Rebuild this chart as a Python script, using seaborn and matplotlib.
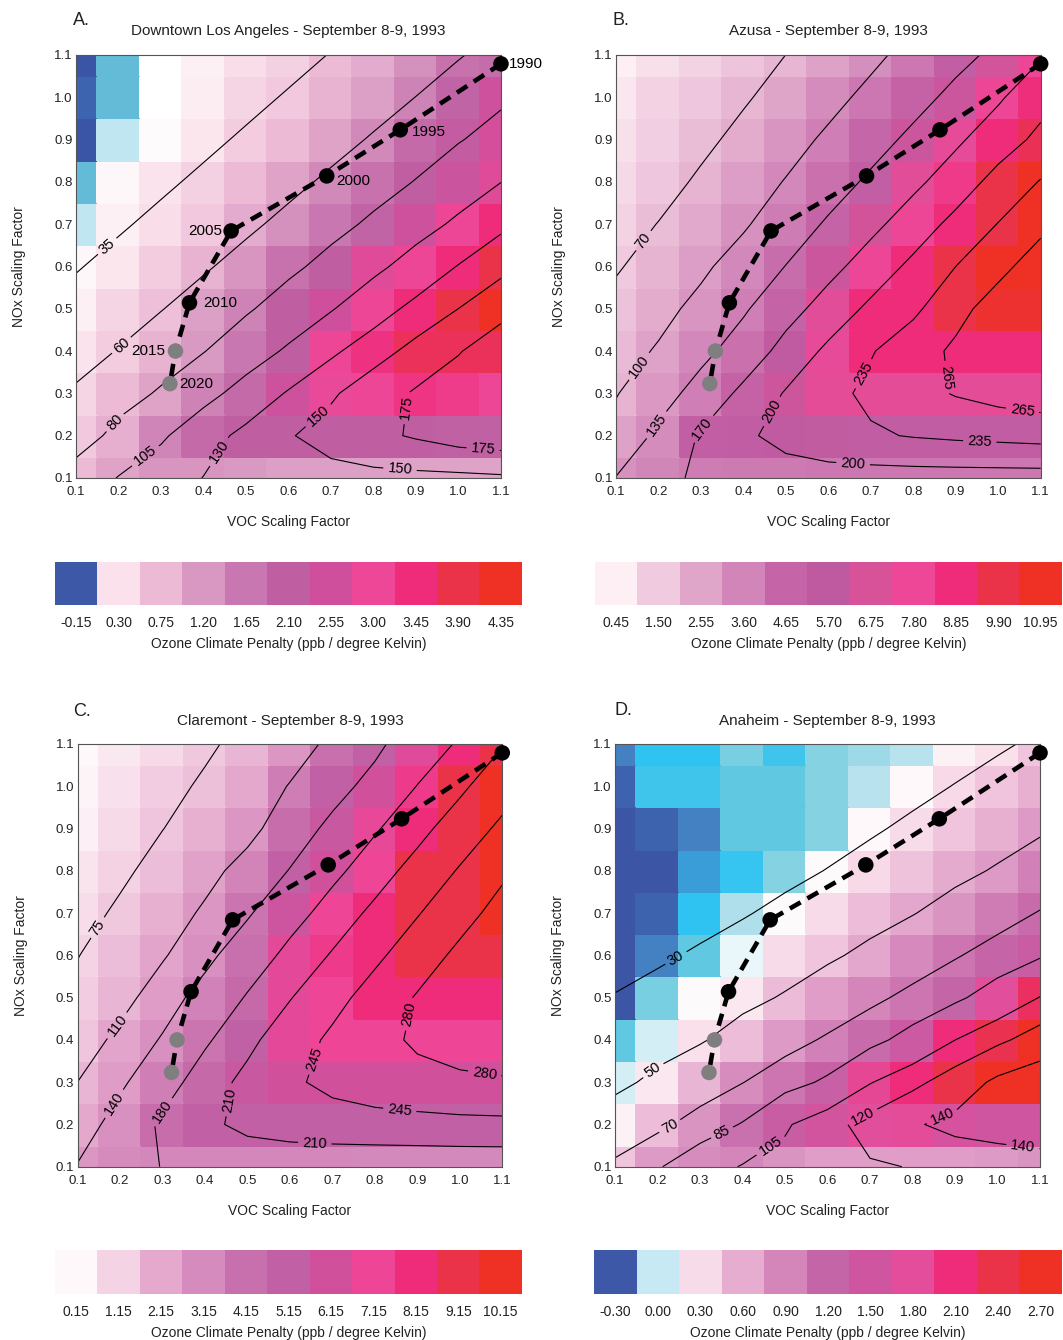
import numpy as np
import matplotlib
matplotlib.use("Agg")
import matplotlib.pyplot as plt
import seaborn as sns
from matplotlib.colors import LinearSegmentedColormap, ListedColormap, BoundaryNorm
from matplotlib.cm import ScalarMappable

# ---------------- data ----------------
voc_levels = [0.1, 0.2, 0.3, 0.4, 0.5, 0.6, 0.7, 0.8, 0.9, 1.0, 1.1]
nox_levels = [0.1, 0.2, 0.3, 0.4, 0.5, 0.6, 0.7, 0.8, 0.9, 1.0, 1.1]

traj_years = [1990, 1995, 2000, 2005, 2010, 2015, 2020]
traj_voc = [1.10, 0.863, 0.690, 0.465, 0.367, 0.334, 0.321]
traj_nox = [1.079, 0.923, 0.814, 0.684, 0.514, 0.400, 0.323]
traj_kind = ["past", "past", "past", "past", "past", "future", "future"]

titles = ["Downtown Los Angeles - September 8-9, 1993",
          "Azusa - September 8-9, 1993",
          "Claremont - September 8-9, 1993",
          "Anaheim - September 8-9, 1993"]
panel_letters = ["A.", "B.", "C.", "D."]

# climate penalty (ppb/K), rows from NOx = 1.1 (top) down to NOx = 0.1
penalty_A = [
    [-0.15, -0.03, 0.15, 0.22, 0.35, 0.50, 0.75, 0.95, 1.30, 1.75, 1.85],
    [-0.11, -0.03, 0.15, 0.24, 0.45, 0.60, 0.85, 1.10, 1.50, 2.00, 2.50],
    [-0.15, 0.05, 0.18, 0.28, 0.55, 0.75, 1.05, 1.40, 1.90, 2.20, 2.60],
    [-0.03, 0.20, 0.30, 0.50, 0.75, 1.05, 1.40, 1.75, 2.10, 2.40, 2.80],
    [0.05, 0.22, 0.35, 0.60, 0.95, 1.30, 1.65, 2.00, 2.50, 3.00, 3.45],
    [0.20, 0.28, 0.55, 0.85, 1.25, 1.75, 2.10, 2.80, 3.00, 3.45, 3.90],
    [0.22, 0.45, 0.70, 1.10, 1.50, 2.10, 2.55, 3.00, 3.45, 3.90, 4.35],
    [0.30, 0.55, 0.85, 1.20, 1.65, 2.10, 3.00, 3.35, 3.75, 3.75, 3.75],
    [0.45, 0.75, 1.05, 1.50, 1.90, 2.50, 2.90, 3.00, 3.30, 3.20, 3.00],
    [0.60, 0.90, 1.45, 1.90, 2.10, 2.10, 2.10, 2.10, 2.10, 2.05, 2.05],
    [0.75, 1.05, 1.25, 1.25, 1.20, 1.10, 1.10, 1.10, 1.05, 1.05, 1.05],
]
penalty_B = [
    [0.45, 0.90, 1.30, 1.70, 2.10, 2.70, 3.30, 4.10, 5.30, 6.50, 7.80],
    [0.70, 1.30, 1.60, 2.10, 2.60, 3.40, 4.10, 4.90, 6.20, 7.80, 8.80],
    [0.90, 1.40, 1.90, 2.40, 3.10, 3.80, 4.60, 6.20, 7.40, 8.85, 9.60],
    [1.10, 1.60, 2.20, 2.80, 3.50, 4.30, 5.30, 7.20, 8.30, 9.90, 10.95],
    [1.30, 1.90, 2.50, 3.20, 3.90, 4.80, 6.60, 7.80, 8.85, 9.90, 10.95],
    [1.55, 2.20, 2.80, 3.50, 4.40, 6.20, 7.80, 8.85, 9.90, 10.95, 10.95],
    [1.80, 2.40, 3.10, 3.80, 4.80, 7.20, 8.85, 8.85, 9.90, 10.60, 10.60],
    [2.00, 2.70, 3.50, 4.30, 5.60, 7.50, 8.85, 8.85, 8.85, 8.85, 8.85],
    [2.20, 3.00, 3.80, 4.90, 6.30, 7.30, 7.30, 7.30, 7.30, 7.30, 7.30],
    [2.70, 3.40, 5.30, 5.40, 5.60, 5.50, 5.40, 5.40, 5.40, 5.40, 5.40],
    [3.20, 3.60, 3.90, 4.00, 4.00, 4.10, 4.10, 4.10, 4.10, 4.10, 4.10],
]
penalty_C = [
    [0.15, 0.60, 1.00, 1.40, 1.90, 2.80, 4.15, 5.15, 6.60, 8.15, 9.15],
    [0.30, 0.80, 1.30, 1.60, 2.20, 3.70, 5.15, 6.15, 7.60, 9.15, 10.15],
    [0.40, 1.00, 1.50, 2.00, 2.80, 4.30, 5.60, 6.90, 8.15, 9.15, 10.15],
    [0.70, 1.20, 1.70, 2.40, 3.40, 5.15, 6.15, 7.15, 9.15, 9.15, 10.15],
    [0.90, 1.40, 2.00, 2.80, 4.00, 5.90, 7.15, 8.15, 9.15, 9.15, 10.15],
    [1.15, 1.70, 2.30, 3.00, 4.20, 6.80, 7.60, 8.15, 9.15, 9.15, 9.15],
    [1.30, 1.90, 2.60, 3.50, 4.60, 6.80, 7.15, 8.15, 8.15, 8.15, 8.15],
    [1.50, 2.30, 3.00, 4.00, 5.10, 6.80, 7.15, 7.15, 7.15, 7.15, 7.15],
    [1.90, 2.60, 3.60, 4.60, 5.60, 6.15, 6.15, 6.15, 6.15, 6.15, 6.15],
    [2.20, 3.00, 4.30, 5.15, 5.15, 5.15, 5.15, 5.15, 5.15, 5.15, 5.15],
    [2.80, 3.15, 3.30, 3.30, 3.30, 3.30, 3.30, 3.20, 3.20, 3.20, 3.20],
]
penalty_D = [
    [-0.24, -0.18, -0.18, -0.10, -0.15, -0.08, -0.05, -0.01, 0.20, 0.28, 0.45],
    [-0.27, -0.15, -0.15, -0.12, -0.12, -0.08, -0.01, 0.16, 0.32, 0.45, 0.58],
    [-0.30, -0.27, -0.24, -0.12, -0.12, -0.08, 0.16, 0.30, 0.45, 0.58, 0.75],
    [-0.29, -0.29, -0.21, -0.16, -0.08, 0.15, 0.32, 0.47, 0.62, 0.75, 0.95],
    [-0.29, -0.27, -0.18, -0.03, 0.15, 0.30, 0.50, 0.65, 0.80, 1.00, 1.15],
    [-0.29, -0.24, -0.12, 0.08, 0.30, 0.45, 0.65, 0.88, 1.05, 1.22, 1.35],
    [-0.29, -0.10, 0.15, 0.25, 0.52, 0.72, 0.90, 1.05, 1.20, 1.75, 2.25],
    [-0.12, 0.03, 0.28, 0.50, 0.75, 0.95, 1.15, 1.40, 2.10, 2.35, 2.70],
    [0.03, 0.24, 0.55, 0.85, 1.05, 1.30, 1.85, 2.10, 2.40, 2.70, 2.70],
    [0.20, 0.50, 0.80, 1.10, 1.35, 1.55, 1.75, 1.80, 1.60, 1.50, 1.50],
    [0.45, 0.75, 0.85, 0.90, 0.80, 0.72, 0.72, 0.72, 0.72, 0.75, 0.80],
]

# peak ozone (ppb), rows from NOx = 1.1 (top) down to NOx = 0.1
ozone_A = [
    [3, 5, 8, 13, 20.4, 28, 35.8, 43.4, 51, 58.8, 66.4],
    [5, 9, 14, 21.3, 29.1, 36.9, 44.6, 52.4, 60.2, 68.5, 76.6],
    [9, 15, 22.2, 30.1, 38, 45.8, 53.7, 61.7, 70.2, 78.7, 88],
    [16, 23.5, 31.2, 39.1, 47.1, 55.1, 63.3, 71.9, 80.8, 92.8, 104.7],
    [24.5, 32.3, 40.3, 48.3, 56.4, 64.8, 73.7, 83.5, 96, 109, 126],
    [33.5, 41.6, 49.7, 57.8, 66.5, 75.5, 86.5, 99.5, 114.5, 131, 143.2],
    [42.8, 51, 59.3, 68.3, 77.4, 89.8, 103.4, 120, 136, 150.1, 167.5],
    [52.3, 60.8, 70.1, 79.2, 93.3, 108.2, 126.1, 141.3, 156.5, 173.5, 189],
    [62.5, 72, 82.2, 97.2, 114, 132.1, 147, 162.2, 178, 188, 193],
    [70.1, 85.8, 101.5, 120.2, 136.1, 148.3, 158.8, 169, 177.7, 186.3, 190.4],
    [89, 106, 118.5, 130.5, 136, 140, 142.5, 143.5, 144, 144.6, 146.5],
]
ozone_B = [
    [28, 36, 46, 58, 70.1, 82, 94.1, 108.6, 125.4, 142.3, 167],
    [35, 44, 55, 67.1, 79.7, 92.2, 106.6, 124, 143.2, 166.1, 190],
    [42, 52, 64, 77, 90.1, 104.5, 122.6, 142.1, 165, 186.2, 206.8],
    [50, 60.4, 73.9, 87.4, 101.3, 120.5, 140.5, 163.4, 184.8, 209.8, 237],
    [58.8, 70.7, 83.5, 96.4, 117.4, 139, 162.3, 184.7, 208.1, 236.1, 258],
    [67.5, 80.9, 94.5, 113.3, 135.7, 160.6, 183.8, 206.4, 235, 257, 279],
    [77.8, 91.3, 108, 131, 158, 183, 205.8, 229.1, 256, 278, 292],
    [88, 102.8, 126.1, 150.3, 180.9, 205.7, 232.9, 252, 270, 280, 290],
    [98.4, 121, 147.7, 177.5, 202.3, 225.2, 242.2, 255, 267, 275, 280],
    [111, 142, 173.4, 193.6, 211.6, 223.7, 231, 237, 241, 244, 247],
    [136, 160, 176, 180, 184, 185.5, 186, 186, 186, 186, 186],
]
ozone_C = [
    [35, 46, 58, 70.4, 83.4, 96.6, 116.3, 133.5, 157.4, 184.5, 208],
    [42.6, 55, 66.5, 79, 92.6, 111.5, 129.7, 149.3, 180.9, 204, 229.9],
    [49.5, 61.6, 74.5, 88.2, 102, 125.1, 146.9, 176.7, 200.6, 225.6, 251.9],
    [55.7, 69.5, 85.2, 101.5, 119.9, 141.2, 172, 196.8, 221.1, 247.9, 274],
    [64.4, 79.8, 96.4, 114, 136.2, 166.8, 193.3, 216.8, 242.9, 267.6, 292],
    [74.2, 90.2, 107.1, 131.1, 160.3, 189.1, 212.6, 238.3, 263.1, 287.6, 300],
    [82, 100, 125.2, 152.9, 183, 208.5, 234, 258.8, 282.7, 295, 305],
    [94.6, 117.4, 142.9, 175.5, 202.2, 228.3, 251.4, 269.4, 285, 292, 297],
    [110.2, 134, 165.9, 195.1, 218.5, 238.7, 255, 264, 270, 275, 277],
    [122, 154.8, 185.8, 204, 217, 222, 228, 232, 234, 236, 237],
    [142, 160, 181.5, 189, 192, 193, 189, 186.5, 186, 186, 186],
]
ozone_D = [
    [4, 5.5, 7, 8.5, 10.5, 13, 16, 19.5, 23.5, 28, 32.5],
    [7, 8.5, 10.5, 12.5, 15, 18, 21.5, 25.7, 30.5, 35.2, 40],
    [9, 11, 13.5, 16, 19.5, 23.5, 28, 33, 37.9, 42.8, 47.8],
    [12, 15, 18, 21.5, 25.8, 30.5, 35.7, 40.8, 45.9, 51.5, 58.6],
    [16.5, 20, 24, 28.7, 33.9, 39, 44.1, 49.3, 56.3, 63.6, 70.9],
    [23, 27.3, 32.3, 37.4, 42.5, 47.5, 53.8, 61.3, 68.7, 76.2, 83.5],
    [30.9, 35.9, 40.9, 45.9, 51.3, 58.9, 66.4, 74.1, 82, 92.7, 105.5],
    [38, 43.5, 48.6, 56.4, 64.2, 72, 80.3, 91, 104.9, 116.4, 128],
    [46, 53.7, 61.7, 69.6, 78.9, 87.6, 104.1, 115.3, 128.7, 144, 152],
    [59.2, 66.5, 76.1, 86, 103.1, 114.5, 126, 138, 145, 148, 150],
    [72.9, 83.5, 96, 106.2, 110, 114, 118.5, 120.5, 127.6, 130.2, 132.5],
]

contour_levels_A = [35, 60, 80, 105, 130, 150, 175]
contour_levels_B = [70, 100, 135, 170, 200, 235, 265]
contour_levels_C = [75, 110, 140, 180, 210, 245, 280]
contour_levels_D = [30, 50, 70, 85, 105, 120, 140]

cbar_ticks_A = [-0.15, 0.30, 0.75, 1.20, 1.65, 2.10, 2.55, 3.00, 3.45, 3.90, 4.35]
cbar_ticks_B = [0.45, 1.50, 2.55, 3.60, 4.65, 5.70, 6.75, 7.80, 8.85, 9.90, 10.95]
cbar_ticks_C = [0.15, 1.15, 2.15, 3.15, 4.15, 5.15, 6.15, 7.15, 8.15, 9.15, 10.15]
cbar_ticks_D = [-0.30, 0.00, 0.30, 0.60, 0.90, 1.20, 1.50, 1.80, 2.10, 2.40, 2.70]

# ---------------- styles ----------------
cbar_colors_A = ['#3d58a7', '#fae1eb', '#ecbad5', '#d898c2', '#c977b0', '#bf5fa2',
                 '#d04f9c', '#ee4797', '#ee2c7a', '#ea3249', '#ee3124']
cbar_colors_B = ['#fdeff3', '#f0cadf', '#e0a6ca', '#d185b9', '#c565a7', '#c05aa0',
                 '#d75299', '#ee4797', '#ee2c7a', '#ea3249', '#ee3124']
cbar_colors_C = ['#fef8fa', '#f4d3e4', '#e5a9ce', '#d58bbd', '#c870ad', '#c160a4',
                 '#d1509c', '#ee4597', '#ee2c7a', '#ea3249', '#ee3124']
cbar_colors_D = ['#3d58a7', '#c6e9f3', '#f8dbe8', '#e6add0', '#d486bb', '#c465a7',
                 '#cf55a0', '#e44d9b', '#ee2c7a', '#ea3249', '#ee3124']

# heat-map colour anchors (value, colour)
heat_anchors_A = [(-0.15, '#3b55a6'), (-0.11, '#3c66b0'), (-0.03, '#6dcde0'),
                  (0.05, '#c7e8f2'), (0.15, '#ffffff'), (0.22, '#fdf0f4')] + \
                 list(zip(cbar_ticks_A[1:], cbar_colors_A[1:]))
heat_anchors_B = list(zip(cbar_ticks_B, cbar_colors_B))
heat_anchors_C = list(zip(cbar_ticks_C, cbar_colors_C))
heat_anchors_D = [(-0.30, '#3d55a5'), (-0.27, '#3d66b0'), (-0.24, '#4382c4'),
                  (-0.21, '#37a6df'), (-0.18, '#2ec5f3'), (-0.15, '#46c3e9'),
                  (-0.12, '#64c9e0'), (-0.08, '#8ed4e4'), (-0.04, '#a6dbe8'),
                  (0.00, '#c6e9f3'), (0.08, '#ebf7fa'), (0.15, '#fefafb')] + \
                 list(zip(cbar_ticks_D[2:], cbar_colors_D[2:]))

# contour label placements (data coords)
label_pos_A = [(0.168, 0.654), (0.20, 0.422), (0.186, 0.236), (0.251, 0.169), (0.419, 0.173),
               (0.659, 0.26), (0.863, 0.268), (1.059, 0.181), (0.863, 0.13)]
label_pos_B = [(0.153, 0.670), (0.145, 0.371), (0.18, 0.236), (0.29, 0.229), (0.455, 0.264),
               (0.667, 0.355), (0.89, 0.339), (1.059, 0.276), (0.957, 0.197), (0.659, 0.146)]
label_pos_C = [(0.137, 0.672), (0.176, 0.447), (0.172, 0.258), (0.282, 0.242), (0.435, 0.262),
               (0.643, 0.36), (0.871, 0.463), (1.059, 0.325), (0.859, 0.238), (0.659, 0.167)]
label_pos_D = [(0.237, 0.605), (0.186, 0.333), (0.219, 0.214), (0.343, 0.199), (0.449, 0.175),
               (0.678, 0.226), (0.861, 0.238), (1.061, 0.159)]

year_offsets = [(6, 0, 'left'), (8, -1.5, 'left'), (7, -3.5, 'left'), (-6.5, 0, 'right'),
                (10, 0, 'left'), (-7, 0, 'right'), (7, 0, 'left')]

axes_rects = [[0.0715, 0.6433, 0.3998, 0.3157], [0.5795, 0.6433, 0.3995, 0.3157],
              [0.0731, 0.1293, 0.3994, 0.3155], [0.5786, 0.1293, 0.3998, 0.3155]]
cbar_rects = [[0.0517, 0.5485, 0.4393, 0.0321], [0.5597, 0.5485, 0.4393, 0.0321],
              [0.0517, 0.0343, 0.4393, 0.0328], [0.5588, 0.0343, 0.4403, 0.0328]]
letter_pos = [(0.0687, 0.985), (0.576, 0.985), (0.0687, 0.4687), (0.578, 0.4695)]

# ---------------- drawing ----------------
sns.set_theme(style="white")
plt.rcParams['font.family'] = ['Liberation Sans', 'DejaVu Sans']
plt.rcParams['axes.unicode_minus'] = False

fig = plt.figure(figsize=(10.63, 13.40), dpi=100)

panels = [
    (penalty_A, ozone_A, contour_levels_A, cbar_ticks_A, cbar_colors_A, heat_anchors_A, label_pos_A),
    (penalty_B, ozone_B, contour_levels_B, cbar_ticks_B, cbar_colors_B, heat_anchors_B, label_pos_B),
    (penalty_C, ozone_C, contour_levels_C, cbar_ticks_C, cbar_colors_C, heat_anchors_C, label_pos_C),
    (penalty_D, ozone_D, contour_levels_D, cbar_ticks_D, cbar_colors_D, heat_anchors_D, label_pos_D),
]

x = np.array(voc_levels)
y = np.array(nox_levels)

for i, (pen, oz, levels, cticks, ccols, anchors, lpos) in enumerate(panels):
    ax = fig.add_axes(axes_rects[i])
    vals = [a[0] for a in anchors]
    vmin, vmax = vals[0], vals[-1]
    cmap = LinearSegmentedColormap.from_list(
        f"heat{i}", [((v - vmin) / (vmax - vmin), c) for v, c in anchors])
    Z = np.array(pen, dtype=float)[::-1]
    O = np.array(oz, dtype=float)[::-1]
    ax.pcolormesh(x, y, Z, shading='nearest', cmap=cmap, vmin=vmin, vmax=vmax,
                  edgecolors='face', linewidth=0.3)
    cs = ax.contour(x, y, O, levels=levels, colors='black', linewidths=0.8)
    ax.clabel(cs, levels, manual=lpos, inline=True, fontsize=10.5, fmt='%d',
              inline_spacing=3)

    # trajectory
    sns.lineplot(x=traj_voc, y=traj_nox, sort=False, color='black', linewidth=3.3,
                 ax=ax, zorder=5)
    ax.lines[-1].set_dashes((2.7, 1.7))
    ax.lines[-1].set_dash_capstyle('butt')
    sns.scatterplot(x=traj_voc, y=traj_nox, hue=traj_kind,
                    palette={"past": "black", "future": "#7f7f7f"},
                    s=125, edgecolor='none', legend=False, ax=ax, zorder=6,
                    clip_on=False)
    if i == 0:
        for (yr, xv, yv), (dx, dy, ha) in zip(zip(traj_years, traj_voc, traj_nox), year_offsets):
            ax.annotate(str(yr), (xv, yv), xytext=(dx, dy), textcoords='offset points',
                        ha=ha, va='center', fontsize=11, color='black', zorder=7,
                        annotation_clip=False)

    ax.set_xlim(0.1, 1.1)
    ax.set_ylim(0.1, 1.1)
    ax.set_xticks(voc_levels)
    ax.set_yticks(nox_levels)
    ax.set_xticklabels([f"{v:.1f}" for v in voc_levels])
    ax.set_yticklabels([f"{v:.1f}" for v in nox_levels])
    ax.tick_params(axis='both', which='both', length=0, labelsize=9.5, colors='#222222')
    ax.tick_params(axis='x', pad=6)
    ax.tick_params(axis='y', pad=2.5)
    ax.set_xlabel("VOC Scaling Factor", fontsize=10, labelpad=12, color='#222222')
    ax.set_ylabel("NOx Scaling Factor", fontsize=10, labelpad=20, color='#222222')
    ax.set_title(titles[i], fontsize=11, pad=14, color='#222222')
    for sp in ax.spines.values():
        sp.set_linewidth(0.8)
        sp.set_color('#555555')
        sp.set_visible(True)
    fig.text(letter_pos[i][0], letter_pos[i][1], panel_letters[i], fontsize=13,
             ha='left', va='center', color='#222222')

    # discrete colour bar
    cax = fig.add_axes(cbar_rects[i])
    step = cticks[1] - cticks[0]
    edges = [t - step / 2 for t in cticks] + [cticks[-1] + step / 2]
    norm = BoundaryNorm(edges, len(ccols))
    sm = ScalarMappable(norm=norm, cmap=ListedColormap(ccols))
    cb = fig.colorbar(sm, cax=cax, orientation='horizontal', ticks=cticks)
    cb.outline.set_visible(False)
    cb.minorticks_off()
    cb.ax.set_xticklabels([f"{t:.2f}" for t in cticks])
    cax.tick_params(which='both', length=0, pad=8, labelsize=10, colors='#222222')
    cax.xaxis.set_minor_locator(matplotlib.ticker.NullLocator())
    cb.set_label("Ozone Climate Penalty (ppb / degree Kelvin)", fontsize=10,
                 labelpad=5, color='#222222')

fig.savefig("out.png", dpi=100)
